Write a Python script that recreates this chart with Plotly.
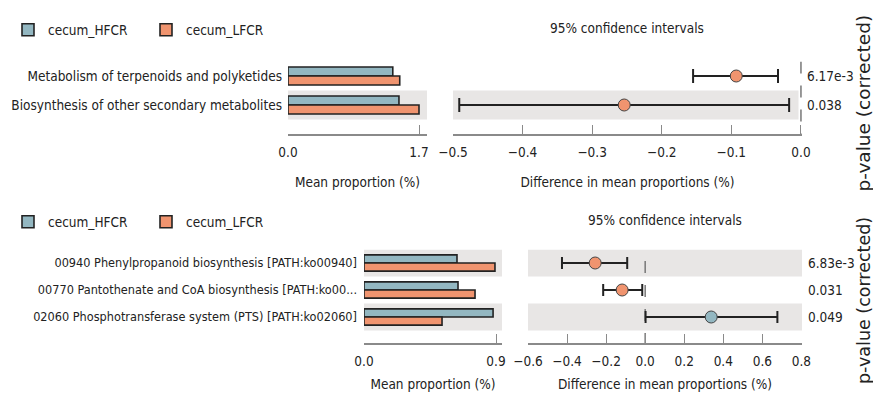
import plotly.graph_objects as go

# ---------------- data ----------------
groups = ["cecum_HFCR", "cecum_LFCR"]

top_pathways = ["Metabolism of terpenoids and polyketides",
                "Biosynthesis of other secondary metabolites"]
top_hfcr = [1.36, 1.44]
top_lfcr = [1.45, 1.70]
top_diff = [-0.093, -0.254]
top_ci_low = [-0.155, -0.491]
top_ci_high = [-0.033, -0.017]
top_pvals = ["6.17e-3", "0.038"]
top_bar_ticks = [0.0, 1.7]
top_ci_ticks = [-0.5, -0.4, -0.3, -0.2, -0.1, 0.0]

bot_pathways = ["00940 Phenylpropanoid biosynthesis [PATH:ko00940]",
                "00770 Pantothenate and CoA biosynthesis [PATH:ko00...",
                "02060 Phosphotransferase system (PTS) [PATH:ko02060]"]
bot_hfcr = [0.634, 0.641, 0.880]
bot_lfcr = [0.893, 0.757, 0.532]
bot_diff = [-0.256, -0.118, 0.338]
bot_ci_low = [-0.426, -0.215, 0.002]
bot_ci_high = [-0.092, -0.015, 0.677]
bot_pvals = ["6.83e-3", "0.031", "0.049"]
bot_bar_ticks = [0.0, 0.9]
bot_ci_ticks = [-0.6, -0.4, -0.2, 0.0, 0.2, 0.4, 0.6, 0.8]

# ---------------- style ----------------
W, H = 873, 398
FONT = "DejaVu Sans Condensed, DejaVu Sans, sans-serif"
RFONT = "DejaVu Sans, sans-serif"
FS = 13.5
C_H = "#93b7c1"
C_L = "#f0946f"
EDGE = "#222222"
SHADE = "#e8e6e5"
AX = "#8a8a8a"
TXT = "#222222"


def px(x):
    return x / W


def py(y):
    return 1 - y / H


def fmt(v, nd=1):
    s = f"{abs(v):.{nd}f}"
    return ("\u2212" + s) if v < 0 else s


fig = go.Figure()


def add_panel(i_bar, i_ci, names, hfcr, lfcr, diff, lo, hi, bar_w, legend, cap):
    rows = list(range(len(names)))
    xb, yb = f"x{i_bar}", f"y{i_bar}"
    xc, yc = f"x{i_ci}", f"y{i_ci}"
    fig.add_trace(go.Bar(x=hfcr, y=rows, orientation="h", name=groups[0],
                         marker=dict(color=C_H, line=dict(color=EDGE, width=1.6)),
                         width=bar_w, offset=-bar_w, xaxis=xb, yaxis=yb,
                         legend=legend, showlegend=True))
    fig.add_trace(go.Bar(x=lfcr, y=rows, orientation="h", name=groups[1],
                         marker=dict(color=C_L, line=dict(color=EDGE, width=1.6)),
                         width=bar_w, offset=0, xaxis=xb, yaxis=yb,
                         legend=legend, showlegend=True))
    cols = [C_L if d < 0 else C_H for d in diff]
    fig.add_trace(go.Scatter(
        x=diff, y=rows, mode="markers", xaxis=xc, yaxis=yc, showlegend=False,
        marker=dict(size=12, color=cols, line=dict(color="#444", width=1)),
        error_x=dict(type="data", symmetric=False,
                     array=[h - d for h, d in zip(hi, diff)],
                     arrayminus=[d - l for d, l in zip(diff, lo)],
                     color=EDGE, thickness=2, width=cap)))


add_panel(1, 2, top_pathways, top_hfcr, top_lfcr, top_diff, top_ci_low, top_ci_high,
          0.31, "legend", 7)
add_panel(3, 4, bot_pathways, bot_hfcr, bot_lfcr, bot_diff, bot_ci_low, bot_ci_high,
          0.30, "legend2", 6)

# row geometry (pixels)
top_row0, top_step, top_axis = 61.5, 29.0, 134.0
bot_row0, bot_step, bot_axis = 249.5, 27.0, 343.0
top_yr = [-0.5 + (top_axis - top_row0) / top_step, -0.5]
bot_yr = [-0.5 + (bot_axis - bot_row0) / bot_step, -0.5]

tickfont = dict(family=FONT, size=FS, color=TXT)


def xaxis_common(domain, rng, ticks, nd, title, anchor, standoff):
    return dict(domain=domain, range=rng, tickvals=ticks, anchor=anchor,
                ticktext=[fmt(t, nd) for t in ticks],
                showline=True, linecolor=AX, linewidth=1.5, ticks="inside",
                ticklen=9, tickwidth=1.2, tickcolor=AX, showgrid=False,
                zeroline=False, tickfont=tickfont, ticklabelstandoff=5,
                automargin=False,
                title=dict(text=title, font=dict(family=FONT, size=FS, color=TXT),
                           standoff=standoff),
                fixedrange=True)


def yaxis_common(domain, rng, anchor, side, vals, font_size, standoff):
    return dict(domain=domain, range=rng, anchor=anchor, side=side,
                tickvals=list(range(len(vals))), ticktext=vals,
                showline=False, showgrid=False, zeroline=False, ticks="",
                tickfont=dict(family=FONT, size=font_size, color=TXT),
                ticklabelstandoff=standoff, automargin=False, fixedrange=True)


fig.update_layout(
    width=W, height=H, margin=dict(l=0, r=0, t=0, b=0, autoexpand=False),
    paper_bgcolor="white", plot_bgcolor="white",
    barmode="overlay", showlegend=True,
    xaxis=xaxis_common([px(288), px(427)], [0, 1.7 * (427 - 288) / (419 - 288)],
                       top_bar_ticks, 1, "Mean proportion (%)", "y", 19),
    yaxis=yaxis_common([py(top_axis), py(top_row0)], top_yr, "x", "left",
                       top_pathways, 13.5, 5),
    xaxis2=xaxis_common([px(453), px(802)], [-0.5, 0.0015],
                        top_ci_ticks, 1, "Difference in mean proportions (%)", "y2", 19),
    yaxis2=yaxis_common([py(top_axis), py(top_row0)], top_yr, "x2", "right",
                        top_pvals, 13.5, 4),
    xaxis3=xaxis_common([px(364), px(502)], [0, 0.9 * (502 - 364) / (496 - 364)],
                        bot_bar_ticks, 1, "Mean proportion (%)", "y3", 12),
    yaxis3=yaxis_common([py(bot_axis), py(bot_row0)], bot_yr, "x3", "left",
                        bot_pathways, 12.6, 6),
    xaxis4=xaxis_common([px(528), px(802)], [-0.6, 0.803],
                        bot_ci_ticks, 1, "Difference in mean proportions (%)", "y4", 12),
    yaxis4=yaxis_common([py(bot_axis), py(bot_row0)], bot_yr, "x4", "right",
                        bot_pvals, 13.5, 5),
    legend=dict(orientation="h", x=px(8), y=py(30), xanchor="left", yanchor="middle",
                font=dict(family=FONT, size=FS, color=TXT), entrywidth=93,
                bgcolor="rgba(0,0,0,0)", itemclick=False),
    legend2=dict(orientation="h", x=px(8), y=py(222), xanchor="left", yanchor="middle",
                 font=dict(family=FONT, size=FS, color=TXT), entrywidth=93,
                 bgcolor="rgba(0,0,0,0)", itemclick=False),
)

# alternating row shading (last row shaded)
shapes = []
for xa, ya, n in [("x", "y", 2), ("x2", "y2", 2), ("x3", "y3", 3), ("x4", "y4", 3)]:
    for r in range(n):
        if (n - 1 - r) % 2 == 0:
            shapes.append(dict(type="rect", xref=f"{xa} domain", yref=ya, x0=0,
                               x1=0.99 if xa == "x2" else 1,
                               y0=r - 0.5, y1=r + 0.5, fillcolor=SHADE, line=dict(width=0),
                               layer="below"))
# zero reference lines
shapes.append(dict(type="line", xref="x2", yref="y2", x0=0, x1=0, y0=-0.5, y1=top_yr[0],
                   line=dict(color="#777", width=1.5, dash="12px,12px"), layer="below"))
shapes.append(dict(type="line", xref="x4", yref="y4", x0=0, x1=0,
                   y0=-0.5 - (bot_row0 - 237) / bot_step, y1=bot_yr[0],
                   line=dict(color="#777", width=1.5, dash="12px,12px"), layer="below"))
fig.update_layout(shapes=shapes)

annots = [
    dict(text="95% confidence intervals", x=px(627), y=py(28), xref="paper", yref="paper",
         xanchor="center", yanchor="middle", showarrow=False,
         font=dict(family=FONT, size=FS, color=TXT)),
    dict(text="95% confidence intervals", x=px(665), y=py(220), xref="paper", yref="paper",
         xanchor="center", yanchor="middle", showarrow=False,
         font=dict(family=FONT, size=FS, color=TXT)),
    dict(text="p-value (corrected)", x=px(863), y=py(194), xref="paper", yref="paper",
         xanchor="center", yanchor="bottom", textangle=-90, showarrow=False,
         font=dict(family=RFONT, size=18.5, color=TXT)),
    dict(text="p-value (corrected)", x=px(864), y=py(301), xref="paper", yref="paper",
         xanchor="center", yanchor="middle", textangle=-90, showarrow=False,
         font=dict(family=RFONT, size=17.5, color=TXT)),
]
fig.update_layout(annotations=annots)

fig.write_html("out.html")
